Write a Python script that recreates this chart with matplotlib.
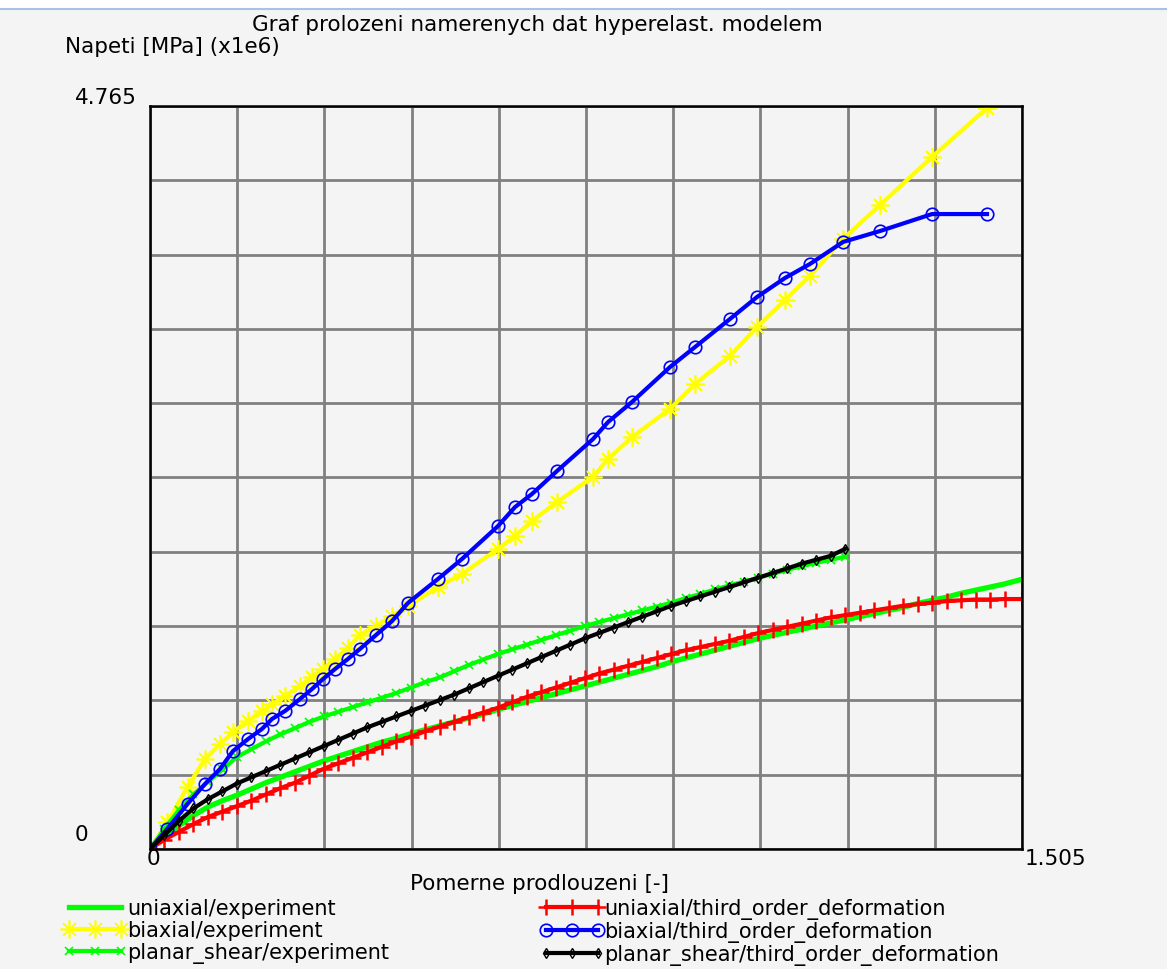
import numpy as np
import matplotlib.pyplot as plt
from matplotlib.lines import Line2D
from matplotlib.patches import Rectangle

# strain values [-] and stress values [MPa] (x1e6)
uni_strain = [0, .025, .05, .075, .1, .125, .15, .175, .2, .225,
              .25, .275, .3, .325, .35, .375, .4, .425, .45, .475,
              .5, .525, .55, .575, .6, .625, .65, .675, .7, .725,
              .75, .775, .8, .825, .85, .875, .9, .925, .95, .975,
              1.0, 1.025, 1.05, 1.075, 1.1, 1.125, 1.15, 1.175, 1.2, 1.225,
              1.25, 1.275, 1.3, 1.325, 1.35, 1.375, 1.4, 1.425, 1.45, 1.475, 1.505]
uni_exp = [0, .08, .15, .215, .27, .31, .345, .385, .425, .46,
           .495, .53, .565, .595, .625, .655, .685, .71, .74, .765,
           .79, .815, .84, .865, .895, .92, .945, .97, .995, 1.02,
           1.045, 1.07, 1.095, 1.12, 1.145, 1.17, 1.2, 1.225, 1.25, 1.275,
           1.30, 1.325, 1.35, 1.37, 1.39, 1.41, 1.43, 1.45, 1.47, 1.49,
           1.51, 1.53, 1.55, 1.575, 1.595, 1.615, 1.64, 1.66, 1.68, 1.70, 1.73]
uni_model = [0, .06, .11, .16, .205, .24, .275, .31, .35, .39,
             .425, .47, .515, .55, .585, .62, .655, .69, .72, .755,
             .785, .815, .845, .875, .905, .94, .975, 1.005, 1.035, 1.065,
             1.095, 1.125, 1.15, 1.175, 1.2, 1.225, 1.25, 1.275, 1.295, 1.315,
             1.335, 1.36, 1.385, 1.405, 1.425, 1.445, 1.465, 1.485, 1.50, 1.515,
             1.53, 1.545, 1.56, 1.57, 1.58, 1.59, 1.595, 1.60, 1.60, 1.603, 1.603]

bi_strain = [0, 0.03, 0.065, 0.0949, 0.1208, 0.1432, 0.1691, 0.1933, 0.2106, 0.2330,
             0.2589, 0.2796, 0.2986, 0.3193, 0.3417, 0.3624, 0.3900, 0.4177, 0.4453, 0.4971,
             0.5385, 0.6006, 0.6300, 0.6593, 0.7024, 0.7646, 0.7905, 0.8319, 0.8975, 0.9406,
             1.0010, 1.0476, 1.0960, 1.1391, 1.1961, 1.2599, 1.3497, 1.4446]
bi_exp = [0, 0.17, 0.40, 0.577, 0.673, 0.750, 0.821, 0.885, 0.930, 0.981,
          1.045, 1.103, 1.154, 1.219, 1.29, 1.372, 1.430, 1.494, 1.558, 1.680,
          1.764, 1.924, 2.007, 2.104, 2.225, 2.386, 2.501, 2.642, 2.822, 2.982,
          3.162, 3.348, 3.521, 3.675, 3.912, 4.130, 4.438, 4.752]
bi_model = [0, 0.13, 0.29, 0.417, 0.513, 0.628, 0.705, 0.770, 0.834, 0.885,
            0.962, 1.026, 1.090, 1.154, 1.219, 1.283, 1.372, 1.462, 1.578, 1.732,
            1.860, 2.071, 2.193, 2.277, 2.424, 2.629, 2.738, 2.867, 3.091, 3.219,
            3.399, 3.540, 3.662, 3.752, 3.893, 3.963, 4.072, 4.072]

ps_strain = [0, .025, .05, .075, .1, .125, .15, .175, .2, .225,
             .25, .275, .3, .325, .35, .375, .4, .425, .45, .475,
             .5, .525, .55, .575, .6, .625, .65, .675, .7, .725,
             .75, .775, .8, .825, .85, .875, .9, .925, .95, .975,
             1.0, 1.025, 1.05, 1.075, 1.1, 1.125, 1.15, 1.175, 1.2]
ps_exp = [0, .13, .25, .35, .43, .51, .59, .64, .69, .735,
          .775, .815, .85, .88, .91, .94, .97, 1.0, 1.035, 1.07,
          1.10, 1.14, 1.18, 1.215, 1.25, 1.28, 1.31, 1.34, 1.37, 1.40,
          1.43, 1.455, 1.48, 1.505, 1.53, 1.555, 1.58, 1.61, 1.635, 1.665,
          1.69, 1.715, 1.74, 1.765, 1.79, 1.815, 1.835, 1.855, 1.875]
ps_model = [0, .09, .18, .26, .32, .37, .42, .46, .50, .54,
            .58, .62, .66, .70, .74, .78, .815, .85, .885, .92,
            .955, .99, 1.03, 1.07, 1.11, 1.15, 1.19, 1.23, 1.27, 1.31,
            1.35, 1.385, 1.42, 1.455, 1.49, 1.525, 1.56, 1.59, 1.62, 1.65,
            1.68, 1.71, 1.74, 1.77, 1.80, 1.83, 1.855, 1.88, 1.925]

x_max = 1.505
y_max = 4.765

plt.rcParams['font.family'] = ['DejaVu Sans']
bg = '#f4f4f4'

fig = plt.figure(figsize=(11.67, 9.70), dpi=100, facecolor=bg)
# window border strip at the top
fig.patches.append(Rectangle((0, 1 - 9 / 970), 1, 9 / 970, transform=fig.transFigure,
                             color='white', zorder=0))
fig.add_artist(Line2D([0, 1], [1 - 9.5 / 970] * 2, transform=fig.transFigure,
                      color='#a9c1e6', lw=1.5))

ax = fig.add_axes([150 / 1167, 1 - 850 / 970, 872 / 1167, 743 / 970])
ax.set_facecolor(bg)

ast = (8, 2, 0)
ax.plot(uni_strain, uni_exp, color='#00ff00', lw=3.8, label='uniaxial/experiment')
ax.plot(bi_strain, bi_exp, color='#ffff00', lw=3, marker=ast, ms=13, mew=1.2,
        label='biaxial/experiment')
ax.plot(ps_strain, ps_exp, color='#00ff00', lw=3, marker='x', ms=6, mew=1.2,
        label='planar_shear/experiment')
ax.plot(uni_strain, uni_model, color='#ff0000', lw=3, marker='+', ms=11, mew=1.8,
        label='uniaxial/third_order_deformation')
ax.plot(bi_strain, bi_model, color='#0000ff', lw=3, marker='o', ms=9, mew=1.2,
        mfc='none', label='biaxial/third_order_deformation')
ax.plot(ps_strain, ps_model, color='#000000', lw=3, marker='d', ms=5, mew=1.0,
        mfc='none', label='planar_shear/third_order_deformation')

ax.set_xlim(0, x_max)
ax.set_ylim(0, y_max)
ax.set_xticks(np.linspace(0, x_max, 11))
ax.set_yticks(np.linspace(0, y_max, 11))
ax.set_xticks([0, x_max], minor=True)
ax.set_yticks([0, y_max], minor=True)
ax.tick_params(which='major', length=0, labelbottom=False, labelleft=False)
ax.tick_params(which='minor', length=9, width=1.5, direction='inout', color='black')
ax.grid(True, color='#808080', lw=2)
ax.set_axisbelow(True)
for s in ax.spines.values():
    s.set_color('black')
    s.set_linewidth(1.8)

fs = 15.5
ax.text(-0.071, 0.02, '0', transform=ax.transAxes, ha='right', va='center', fontsize=fs)
ax.text(-0.015, 1.012, '4.765', transform=ax.transAxes, ha='right', va='center', fontsize=fs)
ax.text(0.004, -0.012, '0', transform=ax.transAxes, ha='center', va='center', fontsize=fs)
ax.text(1.003, -0.012, '1.505', transform=ax.transAxes, ha='left', va='center', fontsize=fs)

fig.text(537 / 1167, 1 - 25 / 970, 'Graf prolozeni namerenych dat hyperelast. modelem',
         ha='center', va='center', fontsize=fs)
fig.text(65 / 1167, 1 - 47 / 970, 'Napeti [MPa] (x1e6)', ha='left', va='center', fontsize=fs)
fig.text(540 / 1167, 1 - 884 / 970, 'Pomerne prodlouzeni [-]', ha='center', va='center',
         fontsize=fs)

fig.legend(loc='upper left', bbox_to_anchor=(63 / 1167, 1 - 899 / 970), ncol=2,
           frameon=False, fontsize=15, numpoints=3, handlelength=3.1,
           handletextpad=0.0, labelspacing=0.1, columnspacing=7.2, borderpad=0,
           borderaxespad=0)

fig.savefig('out.png', dpi=100, facecolor=bg)
